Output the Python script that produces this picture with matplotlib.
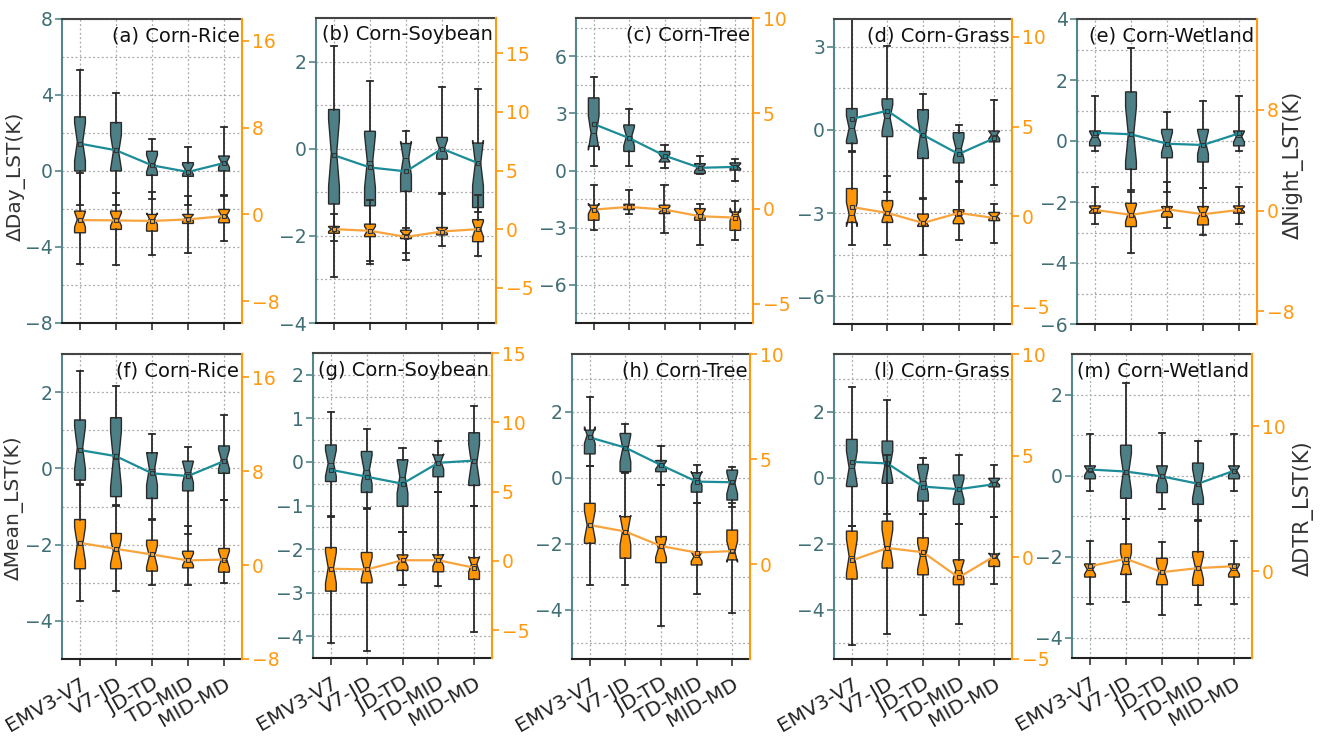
import matplotlib
matplotlib.use('Agg')
import matplotlib.pyplot as plt
import matplotlib.transforms as mtransforms
import numpy as np
from matplotlib.ticker import MultipleLocator

plt.rcParams['font.family'] = ['DejaVu Sans']
plt.rcParams['axes.unicode_minus'] = True

W, H = 1325, 737

categories = ['EMV3-V7', 'V7-JD', 'JD-TD', 'TD-MID', 'MID-MD']
titles = ['(a) Corn-Rice', '(b) Corn-Soybean', '(c) Corn-Tree', '(d) Corn-Grass', '(e) Corn-Wetland',
          '(f) Corn-Rice', '(g) Corn-Soybean', '(h) Corn-Tree', '(l) Corn-Grass', '(m) Corn-Wetland']

# each row = one category: [whisker low, Q1, median, Q3, whisker high, mean]
# teal = left axis, orange = right axis
a_teal = [[-1.81, 0.0, 1.53, 2.85, 5.34, 1.44], [-1.81, 0.0, 1.0, 2.55, 4.08, 1.09],
          [-1.46, -0.23, 0.39, 1.04, 1.67, 0.30], [-1.81, -0.28, 0.07, 0.44, 1.25, -0.05],
          [-1.28, 0.0, 0.47, 0.79, 2.32, 0.42]]
a_orange = [[-4.6, -1.69, -0.46, 0.31, 3.85, -0.52], [-4.68, -1.38, -0.46, 0.31, 2.0, -0.55],
            [-3.7, -1.54, -0.4, 0.0, 2.06, -0.6], [-3.54, -0.83, -0.3, 0.0, 1.69, -0.46],
            [-2.46, -0.77, -0.09, 0.46, 1.7, -0.15]]
b_teal = [[-2.95, -1.27, -0.1, 0.9, 2.36, -0.15], [-2.64, -1.31, -0.29, 0.4, 1.55, -0.43],
          [-2.55, -0.98, -0.22, 0.12, 0.4, -0.52], [-1.02, -0.24, 0.02, 0.26, 1.42, 0.0],
          [-1.45, -1.35, -0.33, 0.13, 1.36, -0.33]]
b_orange = [[-1.0, -0.35, 0.0, 0.23, 1.3, 0.0], [-2.75, -0.64, -0.14, 0.43, 2.46, -0.14],
            [-2.0, -0.81, -0.43, -0.09, 0.14, -0.66], [-1.45, -0.49, -0.14, 0.14, 3.0, -0.2],
            [-2.31, -1.07, 0.0, 0.81, 2.9, 0.0]]
c_teal = [[0.26, 1.27, 1.96, 3.81, 4.9, 2.44], [0.26, 1.0, 1.79, 2.39, 3.22, 1.7],
          [0.14, 0.45, 0.66, 1.0, 1.35, 0.78], [-0.2, -0.16, 0.14, 0.36, 0.75, 0.14],
          [-0.55, 0.02, 0.22, 0.4, 0.61, 0.19]]
c_orange = [[-1.1, -0.61, 0.0, 0.18, 1.23, -0.05], [-0.26, -0.05, 0.09, 0.23, 0.96, 0.09],
            [-1.26, -0.26, -0.05, 0.18, 1.23, -0.05], [-1.93, -0.61, -0.26, 0.0, 0.23, -0.4],
            [-1.63, -1.14, -0.3, -0.18, 0.39, -0.47]]
d_teal = [[-0.79, -0.49, 0.06, 0.77, 4.6, 0.4], [-2.25, -0.24, 0.43, 1.12, 3.04, 0.69],
          [-2.49, -1.03, -0.18, 0.73, 1.28, -0.18], [-1.88, -1.19, -0.67, -0.1, 0.18, -0.87],
          [-2.0, -0.43, -0.18, -0.04, 1.07, -0.3]]
d_orange = [[-1.59, -0.34, 0.1, 1.55, 3.64, 0.52], [-1.59, -0.34, 0.19, 0.88, 2.24, 0.19],
            [-2.15, -0.56, -0.28, 0.13, 1.03, -0.37], [-1.34, -0.41, 0.0, 0.37, 1.96, 0.19],
            [-1.49, -0.24, 0.0, 0.22, 0.71, -0.09]]
e_teal = [[-0.33, -0.16, 0.14, 0.33, 1.48, 0.27], [-1.6, -0.93, 0.22, 1.61, 3.04, 0.22],
          [-1.67, -0.55, -0.05, 0.38, 0.95, -0.09], [-1.53, -0.69, -0.05, 0.38, 1.31, -0.13],
          [-0.33, -0.16, 0.14, 0.33, 1.48, 0.25]]
e_orange = [[-1.09, -0.21, 0.1, 0.37, 1.9, 0.05], [-3.39, -1.27, -0.21, 0.58, 1.51, -0.34],
            [-1.35, -0.53, 0.0, 0.32, 2.3, 0.1], [-1.93, -1.14, -0.21, 0.32, 1.77, -0.29],
            [-1.09, -0.21, 0.1, 0.37, 1.9, 0.05]]
f_teal = [[-0.42, -0.31, 0.54, 1.27, 2.55, 0.48], [-0.97, -0.74, 0.24, 1.33, 2.17, 0.32],
          [-1.34, -0.79, -0.01, 0.41, 0.89, -0.13], [-1.73, -0.59, -0.1, 0.19, 0.57, -0.2],
          [-0.83, -0.13, 0.24, 0.59, 1.39, 0.19]]
f_orange = [[-3.06, -0.31, 1.76, 3.89, 6.87, 1.9], [-2.21, -0.31, 1.19, 2.7, 5.08, 1.39],
            [-1.73, -0.51, 0.77, 2.13, 3.83, 0.91], [-1.73, -0.23, 0.48, 1.19, 3.32, 0.4],
            [-1.5, -0.6, 0.48, 1.42, 5.53, 0.48]]
g_teal = [[-1.25, -0.45, -0.03, 0.39, 1.15, -0.18], [-1.06, -0.7, -0.18, 0.24, 0.75, -0.34],
          [-1.6, -1.02, -0.34, 0.05, 0.33, -0.5], [-0.68, -0.34, 0.01, 0.16, 0.48, -0.02],
          [-1.01, -0.54, -0.03, 0.67, 1.28, 0.03]]
g_orange = [[-5.9, -2.18, -0.49, 0.97, 3.16, -0.56], [-6.48, -1.58, -0.53, 0.61, 3.76, -0.61],
            [-1.7, -0.68, 0.0, 0.44, 2.06, 0.05], [-1.82, -0.78, 0.05, 0.44, 4.98, 0.05],
            [-5.1, -1.33, -0.24, 0.24, 3.93, -0.49]]
h_teal = [[0.35, 0.72, 1.29, 1.44, 2.45, 1.22], [0.15, 0.18, 0.89, 1.34, 1.62, 0.91],
          [-0.22, 0.18, 0.38, 0.52, 0.97, 0.38], [-0.78, -0.44, -0.02, 0.15, 0.38, -0.12],
          [-0.88, -0.68, -0.17, 0.23, 0.33, -0.14]]
h_orange = [[-0.98, 1.0, 1.87, 2.9, 4.68, 1.87], [-0.98, 0.29, 1.63, 2.27, 4.37, 1.56],
            [-2.92, 0.08, 0.76, 1.32, 3.78, 0.87], [-1.41, -0.03, 0.37, 0.6, 2.9, 0.56],
            [-2.33, 0.21, 0.6, 1.63, 2.9, 0.63]]
l_teal = [[-1.46, -0.27, 0.3, 1.16, 2.76, 0.48], [-1.11, -0.17, 0.35, 1.11, 2.37, 0.43],
          [-1.11, -0.71, -0.1, 0.4, 0.61, -0.27], [-1.41, -0.81, -0.35, 0.08, 0.68, -0.35],
          [-1.19, -0.28, -0.13, -0.02, 0.37, -0.2]]
l_orange = [[-4.32, -1.07, 0.05, 1.29, 1.53, -0.15], [-3.75, -0.53, 0.54, 1.78, 5.03, 0.46],
            [-2.84, -0.86, 0.05, 0.96, 2.11, 0.25], [-3.3, -1.35, -0.61, -0.12, 1.62, -0.99],
            [-1.3, -0.45, 0.0, 0.17, 1.98, 0.05]]
m_teal = [[-0.38, -0.08, 0.12, 0.24, 1.02, 0.15], [-1.06, -0.56, 0.08, 0.75, 2.29, 0.1],
          [-0.82, -0.42, 0.0, 0.24, 1.04, -0.02], [-1.1, -0.71, -0.2, 0.31, 0.86, -0.2],
          [-0.38, -0.08, 0.12, 0.24, 1.02, 0.12]]
m_orange = [[-2.24, -0.41, 0.11, 0.5, 2.1, 0.34], [-2.13, -0.23, 0.5, 1.88, 3.59, 0.85],
            [-3.0, -0.94, -0.07, 0.89, 1.99, -0.07], [-2.36, -0.98, 0.27, 1.35, 3.48, 0.21],
            [-2.24, -0.41, 0.11, 0.5, 2.1, 0.34]]

teal_sets = [a_teal, b_teal, c_teal, d_teal, e_teal, f_teal, g_teal, h_teal, l_teal, m_teal]
orange_sets = [a_orange, b_orange, c_orange, d_orange, e_orange, f_orange, g_orange, h_orange, l_orange, m_orange]

# layout: pixel box (left, right, top, bottom), left ylim, left tick step, right ylim, right tick step
layout = [
    ((62, 242, 19, 323), (-8, 8), 4, (-10, 18), 8),
    ((316, 496, 18, 323), (-4, 3), 2, (-8, 18), 5),
    ((576, 753, 18, 323), (-8, 8), 3, (-6, 10), 5),
    ((834, 1012, 19, 324), (-7, 4), 3, (-6, 11), 5),
    ((1077, 1257, 19, 324), (-6, 4), 2, (-9, 15.2), 8),
    ((62, 242, 354, 659), (-5, 3), 2, (-8, 18), 8),
    ((313, 492, 353, 658), (-4.5, 2.5), 1, (-7, 15), 5),
    ((572, 750, 354, 659), (-5.5, 3.75), 2, (-4.5, 10), 5),
    ((834, 1012, 354, 659), (-5.5, 3.75), 2, (-5, 10), 5),
    ((1072, 1252, 354, 658), (-4.5, 3), 2, (-6, 15), 10),
]

TEAL_FACE = '#4d7f86'
TEAL_LINE = '#1b8c98'
ORANGE_FACE = '#ff9605'
ORANGE_LINE = '#f8a43c'
LEFT_COL = '#55868c'
LEFT_LBL = '#3f6e75'
RIGHT_COL = '#ff9a10'
EDGE = '#2a2a2a'
GRID = '#a8a8a8'

fig = plt.figure(figsize=(W / 100, H / 100), dpi=100)


def rect(l, r, t, b):
    return [l / W, 1 - b / H, (r - l) / W, (b - t) / H]


def box_stats(rows):
    out = []
    for lo, q1, med, q3, hi, mean in rows:
        half = 1.58 * (q3 - q1) / np.sqrt(20)
        out.append(dict(whislo=lo, q1=q1, med=med, q3=q3, whishi=hi, mean=mean,
                        cilo=med - half, cihi=med + half, fliers=[]))
    return out


def draw(ax, rows, face, linecol):
    pos = np.arange(1, len(categories) + 1)
    ax.bxp(box_stats(rows), positions=pos, widths=0.3, shownotches=True, showfliers=False,
           showmeans=False, patch_artist=True, manage_ticks=False, capwidths=0.17,
           boxprops=dict(facecolor=face, edgecolor=EDGE, linewidth=1.0),
           whiskerprops=dict(color=EDGE, linewidth=1.3),
           capprops=dict(color=EDGE, linewidth=1.3),
           medianprops=dict(color=EDGE, linewidth=0.6))
    means = [r[5] for r in rows]
    ax.plot(pos, means, color=linecol, lw=1.6, zorder=5)
    ax.plot(pos, means, ls='none', marker='s', ms=3.2, mfc='none', mec='#333333', mew=0.8, zorder=6)


label_shift = mtransforms.ScaledTranslation(8 / 100, 0, fig.dpi_scale_trans)

for i in range(10):
    (l, r, t, b), ylim_l, step_l, ylim_r, step_r = layout[i]
    ax = fig.add_axes(rect(l, r, t, b))
    ax2 = ax.twinx()
    draw(ax, teal_sets[i], TEAL_FACE, TEAL_LINE)
    draw(ax2, orange_sets[i], ORANGE_FACE, ORANGE_LINE)

    ax.set_xlim(0.5, 5.5)
    ax.set_ylim(*ylim_l)
    ax2.set_ylim(*ylim_r)
    ax.yaxis.set_major_locator(MultipleLocator(step_l))
    ax.yaxis.set_minor_locator(MultipleLocator(step_l / 2))
    ax2.yaxis.set_major_locator(MultipleLocator(step_r))
    ax.set_axisbelow(True)
    ax.grid(True, which='both', axis='y', ls=(0, (1.5, 2)), color=GRID, lw=0.9)
    ax.grid(True, which='major', axis='x', ls=(0, (1.5, 2)), color=GRID, lw=0.9)

    ax.set_xticks(np.arange(1, 6))
    if i >= 5:
        ax.set_xticklabels(categories, rotation=30, ha='right', va='top', rotation_mode='anchor',
                           fontsize=14.5, color='#222222')
        for lab in ax.get_xticklabels():
            lab.set_transform(lab.get_transform() + label_shift)
    else:
        ax.set_xticklabels([])

    for s in ['left', 'top', 'bottom', 'right']:
        ax.spines[s].set_linewidth(1.5)
        ax2.spines[s].set_linewidth(1.5)
    ax.spines['left'].set_color(LEFT_COL)
    ax.spines['top'].set_color('#444444')
    ax.spines['bottom'].set_color('#222222')
    ax.spines['right'].set_visible(False)
    ax2.spines['left'].set_visible(False)
    ax2.spines['top'].set_visible(False)
    ax2.spines['bottom'].set_visible(False)
    ax2.spines['right'].set_color(RIGHT_COL)

    ax.tick_params(axis='y', which='major', direction='out', length=5, width=1.2,
                   color=LEFT_COL, labelcolor=LEFT_LBL, labelsize=13.5, pad=1.5)
    ax.tick_params(axis='y', which='minor', length=0)
    ax.tick_params(axis='x', direction='out', length=5, width=1.2, color='#333333', pad=6)
    ax2.tick_params(axis='y', direction='out', length=5, width=1.2,
                    color=RIGHT_COL, labelcolor=RIGHT_COL, labelsize=13.5, pad=2)

    ax.text(0.985, 1 - 17 / (b - t), titles[i], transform=ax.transAxes, ha='right', va='center',
            fontsize=14, color='#111111', zorder=10)

fig.text(16 / W, 1 - 176 / H, 'ΔDay_LST(K)', rotation=90, ha='center', va='center', fontsize=14.5, color='#333333')
fig.text(14 / W, 1 - 508 / H, 'ΔMean_LST(K)', rotation=90, ha='center', va='center', fontsize=14.5, color='#333333')
fig.text(1293 / W, 1 - 165 / H, 'ΔNight_LST(K)', rotation=90, ha='center', va='center', fontsize=15, color='#333333')
fig.text(1303 / W, 1 - 508 / H, 'ΔDTR_LST(K)', rotation=90, ha='center', va='center', fontsize=15, color='#333333')

fig.savefig('out.png', dpi=100)
